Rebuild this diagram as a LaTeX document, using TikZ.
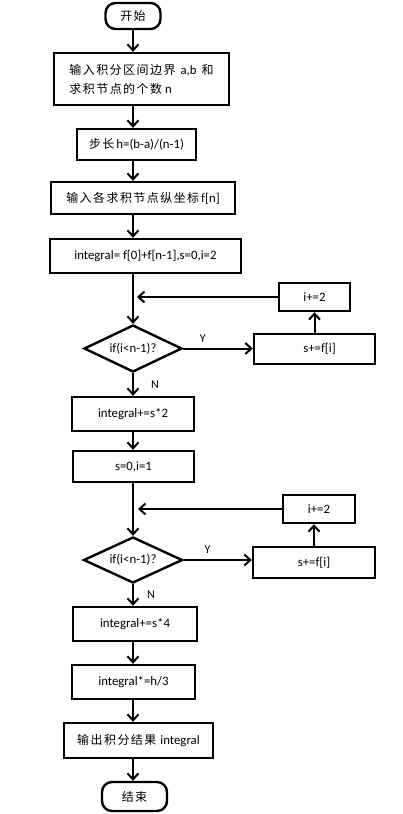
\documentclass[tikz,border=0pt]{standalone}
\usepackage{fontspec}
\setmainfont{Carlito}
\newfontfamily\cjk[LetterSpace=12]{Noto Sans CJK SC}
\newcommand{\zh}[1]{{\cjk\fontsize{12}{15}\selectfont #1}}
\usetikzlibrary{arrows.meta,shapes.geometric}

\begin{document}
\begin{tikzpicture}
	[x=1pt,y=-1pt,line width=2pt,>={Straight Barb[length=6pt,width=11pt]},
	 every node/.style={draw,rectangle,line width=2.4pt,inner sep=2pt,font=\fontsize{12.8}{19}\selectfont},
	 term/.style={rounded corners=10pt},
	 test/.style={diamond,aspect=2,inner sep=0pt},
	 lbl/.style={draw=none,font=\fontsize{12}{14}\selectfont}]
	\useasboundingbox (0,0) rectangle (403,814);
	\node[term,minimum width=55pt,minimum height=26pt] (n1) at (133,16) {\zh{开始}};
	\node[minimum width=175pt,minimum height=52pt,align=left] (n2) at (141.5,79) {\zh{输入积分区间边界}\hspace{5pt}a,b\hspace{5pt}\zh{和}\\\zh{求积节点的个数}\hspace{3pt}n};
	\node[minimum width=119pt,minimum height=31pt] (n3) at (136.5,144.5) {\zh{步长}\hspace{2pt}h=(b-a)/(n-1)};
	\node[minimum width=184pt,minimum height=32pt] (n4) at (143,198) {\zh{输入各求积节点纵坐标}\hspace{2pt}f[n]};
	\node[minimum width=191pt,minimum height=34pt] (n5) at (145.5,256) {integral= f[0]+f[n-1],s=0,i=2};
	\node[test,minimum width=98pt,minimum height=47pt] (n6) at (133,348.5) {if(i<n-1)?};
	\node[minimum width=121pt,minimum height=30pt] (n7) at (314.5,349) {\hspace{10pt}s+=f[i]};
	\node[minimum width=71pt,minimum height=28pt] (n8) at (314.5,297) {i+=2\hspace{8pt}};
	\node[minimum width=122pt,minimum height=34pt] (n9) at (133,414) {integral+=s*2};
	\node[minimum width=121pt,minimum height=31pt] (n10) at (133.5,466.5) {s=0,i=1\hspace{10pt}};
	\node[test,minimum width=99pt,minimum height=46pt] (n11) at (133,560) {if(i<n-1)?};
	\node[minimum width=122pt,minimum height=31pt] (n12) at (314,562.5) {s+=f[i]};
	\node[minimum width=72pt,minimum height=28pt] (n13) at (319,509) {i+=2\hspace{8pt}};
	\node[minimum width=124pt,minimum height=34pt] (n14) at (135,624) {integral+=s*4};
	\node[minimum width=123pt,minimum height=34pt] (n15) at (133.5,682) {integral*=h/3};
	\node[minimum width=149pt,minimum height=35pt] (n16) at (138.5,740.5) {\zh{输出积分结果}\hspace{4pt}integral};
	\node[term,minimum width=65pt,minimum height=29pt] (n17) at (134.5,796.5) {\zh{结束}};
	\coordinate (j1) at (137,297);
	\coordinate (j2) at (138,509);

	\foreach \from/\to in {n1/n2,n2/n3,n3/n4,n4/n5,n5/n6,n9/n10,n10/n11,n14/n15,n15/n16,n16/n17}
	\draw[->] (\from.south -| n1) -- (\to.north -| n1);
	\draw[->] (n6.south -| n1) -- node[lbl,right=15pt] {N} (n9.north -| n1);
	\draw[->] (n11.south -| n1) -- node[lbl,right=11pt] {N} (n14.north -| n1);
	\draw[->] (n6.east) -- node[lbl,above=3pt,pos=0.28] {Y} (n6.east -| n7.west);
	\draw[->] (n11.east) -- node[lbl,above=3pt,pos=0.35] {Y} (n11.east -| n12.west);
	\draw[->] (n7.north) -- (n8.south);
	\draw[->] (n12.north) -- (n12.north |- n13.south);
	\draw[->] (n8.west) -- (j1);
	\draw[->] (n13.west) -- (j2);
\end{tikzpicture}
\end{document}
